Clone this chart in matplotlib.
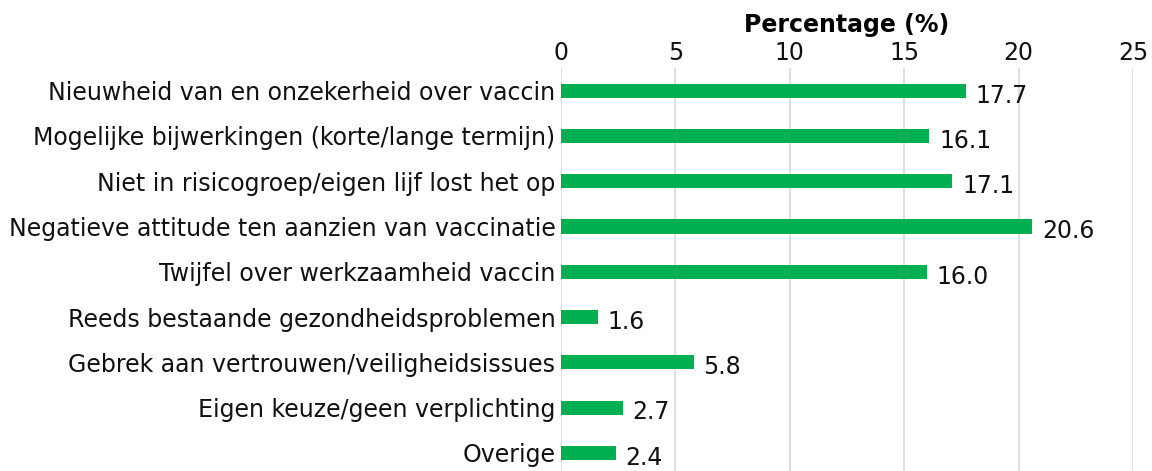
import matplotlib.pyplot as plt

# ---------------- DATA ----------------
categories = [
    "Nieuwheid van en onzekerheid over vaccin",
    "Mogelijke bijwerkingen (korte/lange termijn)",
    "Niet in risicogroep/eigen lijf lost het op",
    "Negatieve attitude ten aanzien van vaccinatie",
    "Twijfel over werkzaamheid vaccin",
    "Reeds bestaande gezondheidsproblemen",
    "Gebrek aan vertrouwen/veiligheidsissues",
    "Eigen keuze/geen verplichting",
    "Overige",
]
values = [17.7, 16.1, 17.1, 20.6, 16.0, 1.6, 5.8, 2.7, 2.4]
xticks = [0, 5, 10, 15, 20, 25]

FS = 17

# ---------------- PLOT ----------------
fig = plt.figure(figsize=(11.52, 4.71), dpi=100)
ax = fig.add_axes([0.487, 0.0, 0.4965, 0.8556])

pos = list(range(len(categories)))
ax.barh(pos, values, height=0.31, color="#00B050", zorder=3)

for y, v in zip(pos, values):
    ax.annotate(f"{v:.1f}", xy=(v, y), xytext=(7, -3.5), textcoords="offset points",
                va="center", ha="left", fontsize=FS, color="#111111")

ax.set_xlim(0, 25)
ax.set_ylim(8.4, -0.5)
ax.set_xticks(xticks)
ax.set_yticks(pos)
ax.set_yticklabels(categories, fontsize=FS, color="#111111")
ax.xaxis.tick_top()
ax.xaxis.set_label_position("top")
ax.set_xlabel("Percentage (%)", fontsize=FS, fontweight="bold", labelpad=7)
ax.tick_params(axis="x", length=0, labelsize=FS, pad=2, labelcolor="#111111")
ax.tick_params(axis="y", length=0, pad=4)
ax.grid(axis="x", color="#D9D9D9", linewidth=1.2, zorder=0)
for s in ax.spines.values():
    s.set_visible(False)

plt.savefig("out.png", dpi=100)
